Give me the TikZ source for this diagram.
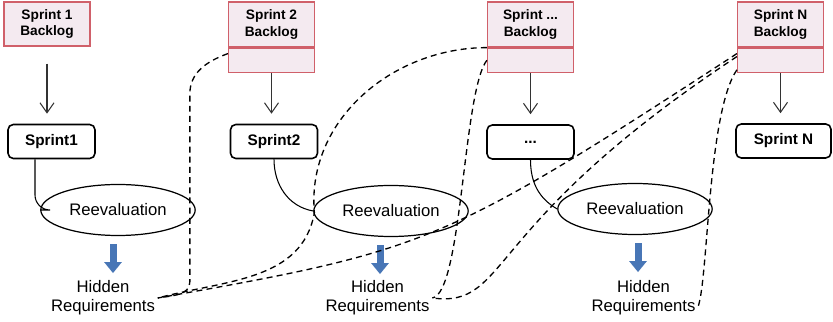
\documentclass[tikz,border=0pt]{standalone}
\usepackage{fontspec}
\setmainfont{Liberation Sans}
\usetikzlibrary{arrows.meta,shapes.geometric}

\definecolor{logfill}{RGB}{244,234,240}
\definecolor{logline}{RGB}{208,96,106}
\definecolor{hidblue}{RGB}{72,118,182}

\begin{document}
\begin{tikzpicture}[
            > = {Straight Barb[length=2mm,width=2.8mm]}, % open arrow head
            backlog/.style = {draw=logline, fill=logfill, line width=0.7pt,
                minimum width=1.72cm, minimum height=0.9cm, align=center,
                font=\fontsize{7.8}{9.6}\selectfont\bfseries},
            blank/.style = {draw=logline, fill=logfill, line width=0.7pt,
                minimum width=1.72cm, minimum height=0.48cm, anchor=north},
            sprint/.style = {draw, rounded corners=3pt, line width=0.9pt,
                minimum width=1.74cm, minimum height=0.68cm,
                font=\fontsize{8.7}{10}\selectfont\bfseries},
            review/.style = {draw, ellipse, line width=0.7pt,
                minimum width=2.8cm, minimum height=1.02cm,
                font=\fontsize{9.5}{11}\selectfont},
            hidtext/.style = {align=center, inner sep=0.05cm,
                font=\fontsize{9.5}{10.8}\selectfont},
            flow/.style = {->, draw=black!80, line width=0.6pt, shorten > = 0.2cm},
            push/.style = {-{Triangle[width=0.34cm,length=0.22cm]}, draw=hidblue,
                line width=0.14cm, shorten < = 0.16cm},
            reqlink/.style = {dash pattern=on 3.4pt off 2.4pt, line width=0.75pt}
        ]
\useasboundingbox (0,0) rectangle (16.66,6.44);

% backlogs
\node[backlog, minimum height=0.88cm] (B1) at (0.94,5.96) {Sprint 1\\Backlog};
\node[backlog] (B2) at (5.43,5.95) {Sprint 2\\Backlog};
\node[backlog] (B3) at (10.61,5.95) {Sprint ...\\Backlog};
\node[backlog] (BN) at (15.61,5.95) {Sprint N\\Backlog};
\node[blank] (B2x) at (B2.south) {};
\node[blank] (B3x) at (B3.south) {};
\node[blank] (BNx) at (BN.south) {};

% sprints
\node[sprint] (S1) at (1.03,3.61) {Sprint1};
\node[sprint] (S2) at (5.48,3.61) {Sprint2};
\node[sprint] (S3) at (10.61,3.6) {...};
\node[sprint, minimum width=1.9cm] (SN) at (15.67,3.62) {Sprint N};

% reevaluations and what they bring up
\node[review] (E1) at (2.36,2.24) {Reevaluation};
\node[review] (E2) at (7.82,2.22) {Reevaluation};
\node[review] (E3) at (12.7,2.26) {Reevaluation};
\node[hidtext] (H1) at (2.06,0.48) {Hidden\\Requirements};
\node[hidtext] (H2) at (7.55,0.48) {Hidden\\Requirements};
\node[hidtext] (H3) at (12.87,0.48) {Hidden\\Requirements};

\draw[flow, shorten < = 0.34cm] (B1) -- (B1 |- S1.north);
\draw[flow] (B2x) -- (B2x |- S2.north);
\draw[flow] (B3x) -- (B3x |- S3.north);
\draw[flow] (BNx) -- (BNx |- SN.north);

\draw[line width=0.6pt, rounded corners=0.3cm] ([xshift=-0.33cm]S1.south) |- (E1.west);
\draw[line width=0.6pt] (S2.south) to[out=-90,in=170] (E2.west);
\draw[line width=0.6pt] (S3.south) to[out=-90,in=150] (E3.west);

\foreach \e/\dx in {E1/-0.1, E2/-0.22, E3/0.06}
    \draw[push] ([xshift=\dx cm]\e.south) -- ++(0,-0.74);

% requirements found later go back into the backlogs
\draw[reqlink] ([yshift=-0.12cm]B2x.north west) to[out=200,in=90] ++(-0.76,-0.8)
    -- ++(0,-3.76) to[out=-90,in=10] (H1.east);
\draw[reqlink] (B3.south west) to[out=180,in=95] ++(-3.45,-3.3)
    to[out=-100,in=15] (H1.east);
\draw[reqlink] (B3x.west) .. controls +(-0.48,-0.62) and +(0.6,0.1) .. (H2.east);
\draw[reqlink] ([yshift=-0.12cm]BNx.north west) .. controls +(-5.9,-3.84) and +(5.4,0.96) .. (H1.east);
\draw[reqlink] ([yshift=-0.18cm]BNx.north west) .. controls +(-5.16,-3.4) and +(1.56,-0.2) .. (H2.east);
\draw[reqlink] ([yshift=0.06cm]BNx.south west) .. controls +(-0.58,-0.84) and +(0.2,0.6)
    .. ([yshift=-0.16cm]H3.east);
\end{tikzpicture}
\end{document}
